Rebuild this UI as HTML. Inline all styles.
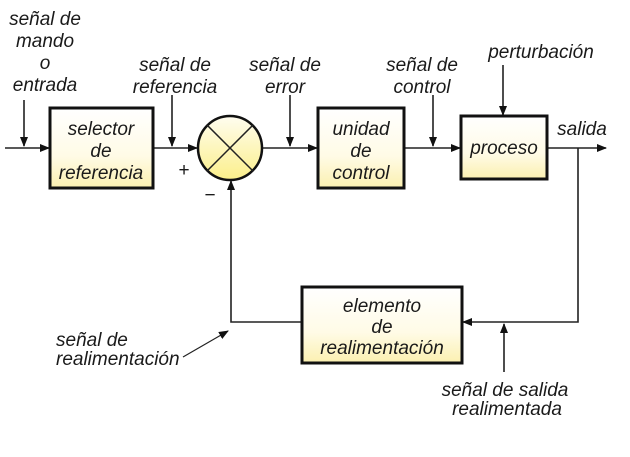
<!DOCTYPE html>
<html><head><meta charset="utf-8"><style>
body{margin:0;background:#fff}
svg text{font-family:"Liberation Sans",sans-serif;font-style:italic;font-size:19px;fill:#1a1a1a;text-anchor:middle}
</style></head><body>
<svg width="630" height="452" viewBox="0 0 630 452" xmlns="http://www.w3.org/2000/svg">
<defs>
<linearGradient id="g" x1="0" y1="0" x2="0" y2="1"><stop offset="0" stop-color="#fff"/><stop offset="0.6" stop-color="#fffbe6"/><stop offset="1" stop-color="#fbf0b0"/></linearGradient>
<linearGradient id="c" x1="0" y1="0" x2="0" y2="1"><stop offset="0" stop-color="#fffdf0"/><stop offset="1" stop-color="#fbef8a"/></linearGradient>
<marker id="a" markerWidth="10" markerHeight="8" refX="9" refY="4" orient="auto" markerUnits="userSpaceOnUse"><path d="M0,0 L10,4 L0,8 Z" fill="#111"/></marker>
</defs>
<g stroke="#222" stroke-width="1.6" fill="none">
<line x1="5" y1="148" x2="49" y2="148" marker-end="url(#a)"/>
<line x1="24" y1="100" x2="24" y2="146" marker-end="url(#a)"/>
<line x1="153" y1="148" x2="197" y2="148" marker-end="url(#a)"/>
<line x1="172" y1="95" x2="172" y2="146" marker-end="url(#a)"/>
<line x1="262" y1="148" x2="317" y2="148" marker-end="url(#a)"/>
<line x1="290" y1="95" x2="290" y2="146" marker-end="url(#a)"/>
<line x1="404" y1="148" x2="460" y2="148" marker-end="url(#a)"/>
<line x1="433" y1="95" x2="433" y2="146" marker-end="url(#a)"/>
<line x1="503" y1="65" x2="503" y2="115" marker-end="url(#a)"/>
<line x1="547" y1="148" x2="606" y2="148" marker-end="url(#a)"/>
<polyline points="578,148 578,322 463,322" marker-end="url(#a)"/>
<line x1="504" y1="372" x2="504" y2="324" marker-end="url(#a)"/>
<polyline points="302,322 231,322 231,181" marker-end="url(#a)"/>
<line x1="183" y1="357" x2="228" y2="331" stroke-width="1.2" marker-end="url(#a)"/>
</g>
<g stroke="#111" stroke-width="3">
<rect x="50" y="108" width="103" height="80" fill="url(#g)"/>
<rect x="318" y="108" width="86" height="80" fill="url(#g)"/>
<rect x="461" y="116" width="86" height="63" fill="url(#g)"/>
<rect x="302" y="287" width="160" height="76" fill="url(#g)"/>
<circle cx="230" cy="148" r="32" fill="url(#c)" stroke-width="2.5"/>
</g>
<g stroke="#222" stroke-width="1.5"><line x1="207" y1="125" x2="253" y2="171"/><line x1="253" y1="125" x2="207" y2="171"/></g>
<text x="45" y="25">señal de</text><text x="45" y="47">mando</text><text x="45" y="69">o</text><text x="45" y="91">entrada</text>
<text x="101" y="135">selector</text><text x="101" y="157">de</text><text x="101" y="179">referencia</text>
<text x="175" y="71">señal de</text><text x="175" y="93">referencia</text>
<text x="184" y="176" style="font-style:normal">+</text><text x="210" y="201" style="font-style:normal">−</text>
<text x="285" y="71">señal de</text><text x="285" y="93">error</text>
<text x="361" y="135">unidad</text><text x="361" y="157">de</text><text x="361" y="179">control</text>
<text x="541" y="58">perturbación</text>
<text x="422" y="71">señal de</text><text x="422" y="93">control</text>
<text x="504" y="154">proceso</text>
<text x="582" y="135">salida</text>
<text x="382" y="312">elemento</text><text x="382" y="333">de</text><text x="382" y="354">realimentación</text>
<text x="56" y="346" style="text-anchor:start">señal de</text><text x="56" y="365" style="text-anchor:start">realimentación</text>
<text x="505" y="396">señal de salida</text><text x="507" y="415">realimentada</text>
</svg>
</body></html>
